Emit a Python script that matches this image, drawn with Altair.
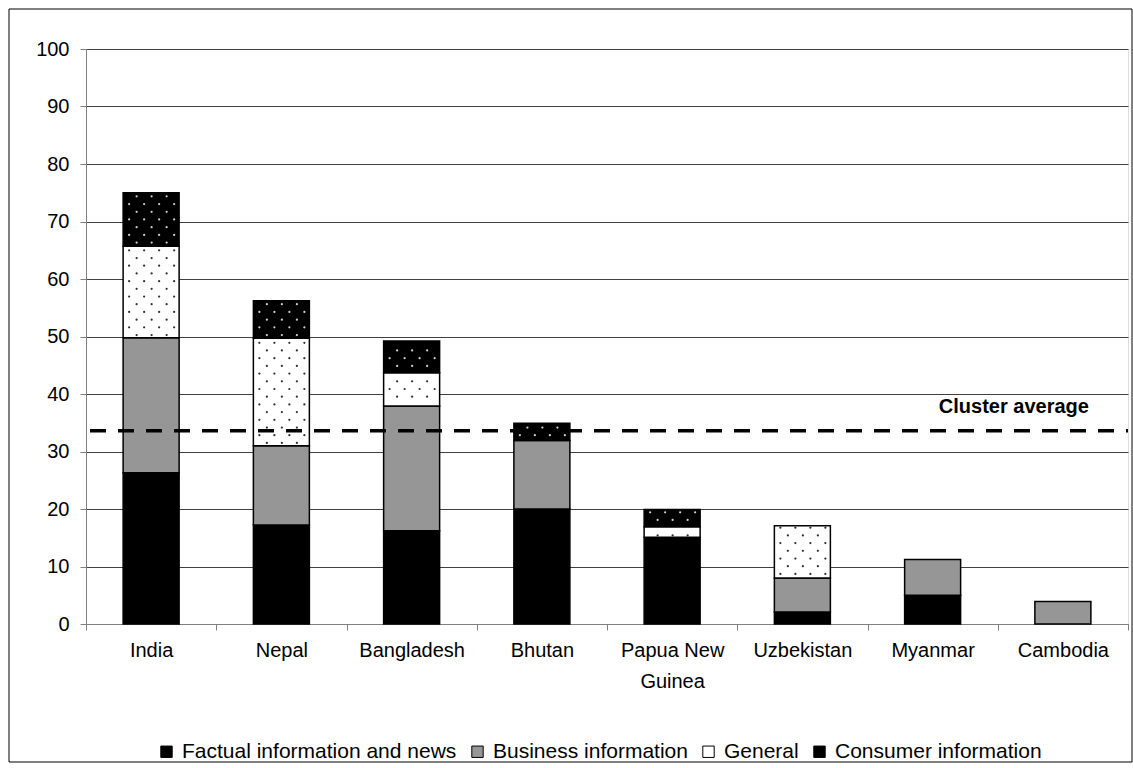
import altair as alt
import pandas as pd
import numpy as np

# ---- data ----
countries = ["India", "Nepal", "Bangladesh", "Bhutan", "Papua New Guinea",
             "Uzbekistan", "Myanmar", "Cambodia"]
factual = [26.3, 17.2, 16.2, 20.0, 15.1, 2.1, 5.0, 0.0]
business = [23.5, 13.8, 21.7, 11.9, 0.0, 5.9, 6.2, 3.9]
general = [15.9, 18.7, 5.8, 0.0, 1.8, 9.1, 0.0, 0.0]
consumer = [9.3, 6.5, 5.5, 3.0, 3.0, 0.0, 0.0, 0.0]
series_names = ["Factual information and news", "Business information",
                "General", "Consumer information"]
series_colors = ["#000000", "#969696", "#ffffff", "#000000"]
cluster_average = 33.6
cluster_label = "Cluster average"
y_ticks = list(range(0, 101, 10))

FONT = "Liberation Sans"

# ---- build stacked segments ----
rows = []
for i, c in enumerate(countries):
    base = 0.0
    for s_i, (name, vals) in enumerate(zip(series_names, [factual, business, general, consumer])):
        v = vals[i]
        if v > 0:
            rows.append(dict(country=c, series=name, order=s_i, start=base, end=base + v))
        base += v
seg = pd.DataFrame(rows)

# ---- dotted fill pattern (decoration) for General / Consumer segments ----
step = 1.34  # pattern row spacing in value units
dots = []
for _, r in seg.iterrows():
    if r["series"] in ("General", "Consumer information"):
        k = int(np.floor(r["start"] / step))
        while (k + 0.5) * step < r["end"] - 0.3:
            yv = (k + 0.5) * step
            if yv > r["start"] + 0.3:
                dots.append(dict(country=r["country"], y=yv, parity=k % 2,
                                 dotcolor="#d0d0d0" if r["series"] == "Consumer information" else "#303030"))
            k += 1
dots = pd.DataFrame(dots)

x_enc = alt.X("country:N", sort=countries,
              scale=alt.Scale(paddingInner=0, paddingOuter=0),
              axis=alt.Axis(title=None, labelAngle=0, labelFontSize=20, labelFont=FONT,
                            labelColor="black", domainColor="#808080", tickColor="#808080",
                            tickSize=6, tickBand="extent", labelPadding=10,
                            labelLineHeight=31,
                            labelExpr="datum.label == 'Papua New Guinea' ? ['Papua New', 'Guinea'] : datum.label"))
y_scale = alt.Scale(domain=[0, 100], nice=False)
y_axis = alt.Axis(title=None, values=y_ticks, grid=True, gridColor="#404040", gridWidth=1,
                  tickSize=6, labelPadding=11, labelFontSize=20, labelFont=FONT,
                  labelColor="black", domainColor="#808080", tickColor="#808080")

frame = alt.Chart(pd.DataFrame({"a": [0]})).mark_rect(
    fill="transparent", stroke="black", strokeWidth=1
).encode(x=alt.value(-77), x2=alt.value(1046), y=alt.value(-40), y2=alt.value(713))

bars = alt.Chart(seg).mark_bar(width=56, stroke="black", strokeWidth=1.5).encode(
    x=x_enc,
    y=alt.Y("start:Q", scale=y_scale, axis=y_axis),
    y2="end:Q",
    color=alt.Color("series:N", scale=alt.Scale(domain=series_names, range=series_colors),
                    legend=alt.Legend(orient="none", legendX=70, legendY=692,
                                      direction="horizontal", title=None,
                                      symbolType="square", symbolSize=130,
                                      symbolStrokeColor="black", symbolStrokeWidth=1,
                                      symbolOpacity=1, labelFontSize=21, labelFont=FONT,
                                      labelColor="black", labelOffset=5, labelLimit=0,
                                      columnPadding=10, padding=0)),
    order=alt.Order("order:Q", sort="ascending"),
)

offsets = {0: [-22, -7, 8, 23], 1: [-14.5, 0.5, 15.5]}
dot_layers = []
for parity, offs in offsets.items():
    for o in offs:
        dot_layers.append(
            alt.Chart(dots).transform_filter(alt.datum.parity == parity)
            .mark_circle(size=5, opacity=1, xOffset=o)
            .encode(x=alt.X("country:N", sort=countries),
                    y=alt.Y("y:Q", scale=y_scale),
                    color=alt.Color("dotcolor:N", scale=None, legend=None))
        )

avg_df = pd.DataFrame({"y": [cluster_average], "country": ["Cambodia"], "label": [cluster_label]})
rule = alt.Chart(avg_df).mark_rule(
    color="black", strokeWidth=3.5, strokeDash=[16, 12], strokeDashOffset=14
).encode(y=alt.Y("y:Q", scale=y_scale))
label = alt.Chart(avg_df).mark_text(
    align="right", baseline="alphabetic", dx=26, dy=-18,
    fontWeight="bold", fontSize=20, font=FONT, color="black"
).encode(x=alt.X("country:N", sort=countries), y=alt.Y("y:Q", scale=y_scale), text="label:N")

chart = alt.layer(frame, bars, *dot_layers, rule, label).properties(
    width=1042, height=575,
    padding={"left": 8, "top": 8, "right": 0, "bottom": 0},
).configure_view(stroke=None).configure(font=FONT)

chart.save("out.html", embed_options={"renderer": "svg", "actions": False})
